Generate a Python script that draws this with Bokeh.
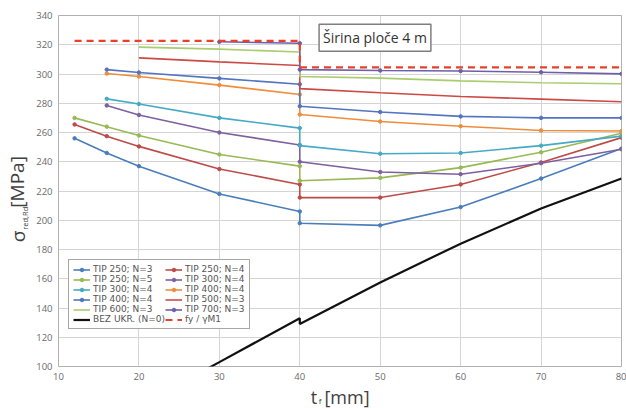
import math
from bokeh.plotting import figure
from bokeh.models import Legend, LegendItem, Label, FixedTicker, Range1d
from bokeh.layouts import row, column
from bokeh.core.properties import value
from bokeh.embed import file_html
from bokeh.resources import INLINE

# ---- data ----
x_from12 = [12, 16, 20, 30, 40, 40, 50, 60, 70, 80]
x_from16 = [16, 20, 30, 40, 40, 50, 60, 70, 80]
x_from20 = [20, 30, 40, 40, 50, 60, 70, 80]
x_from30 = [30, 40, 40, 50, 60, 70, 80]

tip250_n3 = [256, 246, 237, 218, 206, 198, 196.5, 209, 228.5, 249]
tip250_n4 = [265.5, 257.5, 250.5, 235, 224.5, 215.5, 215.5, 224.5, 239.5, 256.5]
tip250_n5 = [270, 264, 258, 245, 237, 227, 229, 236, 246.5, 259.5]
tip300_n4a = [283, 279.5, 270, 263, 251, 245.5, 246, 251, 257.5]
tip300_n4b = [278.5, 272, 260, 251.5, 240, 233, 231.5, 239, 248.5]
tip400_n4o = [300.3, 298.3, 292.4, 286, 272.3, 267.5, 264.3, 261.4, 261]
tip400_n4b = [303, 301, 297, 293, 278, 274, 271, 270, 270]
tip500_n3 = [311, 308.3, 305.8, 290, 287.2, 284.6, 282.8, 281]
tip600_n3 = [318.4, 317, 315, 298.3, 297.2, 295.3, 294, 293.3]
tip700_n3 = [322, 321, 303, 302.4, 302, 301.2, 300.1]
bez_x = [20, 30, 40, 40, 50, 60, 70, 80]
bez_ukr = [73, 103, 133, 129, 157.5, 184, 208, 228.5]
fy_x = [12, 40, 40, 80]
fy_gm1 = [322.7, 322.7, 304.5, 304.5]

x_ticks = [10, 20, 30, 40, 50, 60, 70, 80]
y_ticks = [100, 120, 140, 160, 180, 200, 220, 240, 260, 280, 300, 320, 340]

FONT = "Open Sans"
TXT = "#404040"

p = figure(width=594, height=386, output_backend="svg", toolbar_location=None,
           x_range=(10, 80), y_range=(100, 340),
           min_border_left=26, min_border_right=5, min_border_top=15, min_border_bottom=20)
p.background_fill_color = "white"
p.border_fill_color = "white"
p.outline_line_color = "#b0b0b0"
p.outline_line_width = 1

for ax in (p.xaxis[0], p.yaxis[0]):
    ax.axis_line_color = None
    ax.major_tick_line_color = None
    ax.minor_tick_line_color = None
    ax.major_tick_out = 0
    ax.major_tick_in = 0
    ax.minor_tick_out = 0
    ax.major_label_text_font = FONT
    ax.major_label_text_font_size = "9.5px"
    ax.major_label_text_color = "#6a6a6a"
p.xaxis.ticker = FixedTicker(ticks=x_ticks)
p.yaxis.ticker = FixedTicker(ticks=y_ticks)
p.xaxis.major_label_standoff = 6
p.yaxis.major_label_standoff = 6
p.xgrid.ticker = FixedTicker(ticks=x_ticks)
p.ygrid.ticker = FixedTicker(ticks=y_ticks)
p.grid.grid_line_color = "#d4d4d4"
p.grid.grid_line_width = 1

series = [
    ("TIP 250; N=3", x_from12, tip250_n3, "#4a7ebb", True),
    ("TIP 250; N=4", x_from12, tip250_n4, "#be4b48", True),
    ("TIP 250; N=5", x_from12, tip250_n5, "#98b954", True),
    ("TIP 300; N=4", x_from16, tip300_n4b, "#7d60a0", True),
    ("TIP 300; N=4", x_from16, tip300_n4a, "#46aac5", True),
    ("TIP 400; N=4", x_from16, tip400_n4o, "#f08c3c", True),
    ("TIP 400; N=4", x_from16, tip400_n4b, "#5474c0", True),
    ("TIP 500; N=3", x_from20, tip500_n3, "#cc4a44", False),
    ("TIP 600; N=3", x_from20, tip600_n3, "#a9cd6e", False),
    ("TIP 700; N=3", x_from30, tip700_n3, "#6d5fa8", True),
]

items = {}
for name, xs, ys, col, mk in series:
    r = p.line(xs, ys, line_color=col, line_width=1.6)
    rs = [r]
    if mk:
        m = p.scatter(xs, ys, size=3.5, fill_color=col, line_color=col)
        rs.append(m)
    items[(name, col)] = rs

bez = p.line(bez_x, bez_ukr, line_color="#111111", line_width=2.2)
fy = p.line(fy_x, fy_gm1, line_color="#e8402a", line_width=2.2, line_dash="7 5")

# legend (two columns, filled column by column)
order = [
    ("TIP 250; N=3", "#4a7ebb"), ("TIP 250; N=5", "#98b954"),
    ("TIP 300; N=4", "#46aac5"), ("TIP 400; N=4", "#5474c0"),
    ("TIP 600; N=3", "#a9cd6e"),
]
order2 = [
    ("TIP 250; N=4", "#be4b48"), ("TIP 300; N=4", "#7d60a0"),
    ("TIP 400; N=4", "#f08c3c"), ("TIP 500; N=3", "#cc4a44"),
    ("TIP 700; N=3", "#6d5fa8"),
]
legend_items = [LegendItem(label=n, renderers=items[(n, c)]) for n, c in order]
legend_items.append(LegendItem(label="BEZ UKR. (N=0)", renderers=[bez]))
legend_items += [LegendItem(label=n, renderers=items[(n, c)]) for n, c in order2]
legend_items.append(LegendItem(label="fy / γM1", renderers=[fy]))

legend = Legend(items=legend_items, ncols=2, location=(10, 37),
                label_text_font="DejaVu Sans", label_text_font_size="9px",
                label_text_color="#555555",
                glyph_width=17, glyph_height=9, label_height=9,
                label_standoff=3, spacing=0, padding=4, margin=0,
                border_line_color="#505050", border_line_width=1.5,
                background_fill_color="white", background_fill_alpha=1)
p.add_layout(legend, "center")

# title box
p.add_layout(Label(x=42.4, y=315.5, text="Širina ploče 4 m", text_font=FONT,
                   text_font_size="14px", text_color="#333333",
                   border_line_color="#7f7f7f", border_line_width=1.5,
                   background_fill_color="white", padding=4,
                   text_baseline="bottom", text_align="left"))

# ---- y axis title panel (pixel coordinates) ----
ly = figure(width=32, height=386, output_backend="svg", toolbar_location=None,
            x_range=(0, 32), y_range=Range1d(386, 0), min_border=0,
            x_axis_location=None, y_axis_location=None)
ly.outline_line_color = None
ly.grid.visible = False
ang = math.pi / 2
ly.text(x=[17], y=[243], text=["σ"], angle=ang, text_font=value(FONT),
        text_font_size="19px", text_color=TXT, text_align="center", text_baseline="middle")
ly.text(x=[24], y=[223], text=["red,Rd"], angle=ang, text_font=value(FONT),
        text_font_size="7.5px", text_color=TXT, text_align="center", text_baseline="middle")
ly.text(x=[16.5], y=[183], text=["[MPa]"], angle=ang, text_font=value(FONT),
        text_font_size="19px", text_color=TXT, text_align="center", text_baseline="middle")

# ---- x axis title panel (pixel coordinates) ----
bx = figure(width=626, height=23, output_backend="svg", toolbar_location=None,
            x_range=(0, 626), y_range=Range1d(409, 386), min_border=0,
            x_axis_location=None, y_axis_location=None)
bx.outline_line_color = None
bx.grid.visible = False
bx.text(x=[313.5], y=[396], text=["t"], text_font=value(FONT), text_font_size="18px",
        text_color=TXT, text_align="center", text_baseline="middle")
bx.text(x=[319.5], y=[400], text=["f"], text_font=value(FONT), text_font_size="8px",
        text_color=TXT, text_align="center", text_baseline="middle")
bx.text(x=[346.5], y=[396], text=["[mm]"], text_font=value(FONT), text_font_size="18px",
        text_color=TXT, text_align="center", text_baseline="middle")

layout = column(row(ly, p), bx)
open("out.html", "w").write(file_html(layout, INLINE))
